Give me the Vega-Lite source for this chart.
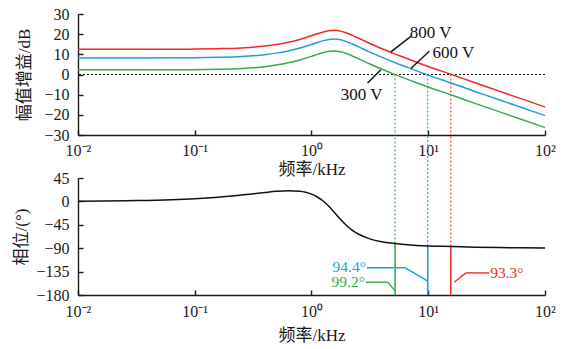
{
  "$schema": "https://vega.github.io/schema/vega-lite/v6.json",
  "padding": {"left": 12, "top": 6, "right": 4, "bottom": 0},
  "background": "white",
  "bounds": "flush",
  "spacing": 43,
  "config": {
    "view": {"stroke": null},
    "font": "Liberation Serif, Noto Sans CJK SC",
    "axis": {
      "grid": false,
      "domainColor": "#1a1a1a",
      "domainWidth": 1.4,
      "tickColor": "#1a1a1a",
      "tickWidth": 1.4,
      "tickSize": -5,
      "labelFont": "Liberation Serif, Noto Sans CJK SC",
      "labelFontSize": 16,
      "labelColor": "#1a1a1a",
      "labelOverlap": false,
      "labelBound": false,
      "titleFont": "Liberation Serif, Noto Sans CJK SC",
      "titleFontSize": 17,
      "titleFontWeight": "normal",
      "titleColor": "#1a1a1a"
    }
  },
  "datasets": {
    "mag": [
      {"V": "800 V", "f": 0.01, "dB": 12.5}, {"V": "800 V", "f": 0.0316, "dB": 12.5}, {"V": "800 V", "f": 0.0631, "dB": 12.55},
      {"V": "800 V", "f": 0.1, "dB": 12.6}, {"V": "800 V", "f": 0.158, "dB": 12.8}, {"V": "800 V", "f": 0.251, "dB": 13.2},
      {"V": "800 V", "f": 0.398, "dB": 14.1}, {"V": "800 V", "f": 0.501, "dB": 14.9}, {"V": "800 V", "f": 0.631, "dB": 16.0},
      {"V": "800 V", "f": 0.794, "dB": 17.4}, {"V": "800 V", "f": 1, "dB": 19.2}, {"V": "800 V", "f": 1.259, "dB": 21.1},
      {"V": "800 V", "f": 1.413, "dB": 21.7}, {"V": "800 V", "f": 1.585, "dB": 21.9}, {"V": "800 V", "f": 1.778, "dB": 21.5},
      {"V": "800 V", "f": 1.995, "dB": 20.6}, {"V": "800 V", "f": 2.239, "dB": 19.4}, {"V": "800 V", "f": 2.512, "dB": 18.1},
      {"V": "800 V", "f": 3.162, "dB": 15.4}, {"V": "800 V", "f": 3.981, "dB": 12.9}, {"V": "800 V", "f": 5.012, "dB": 10.5},
      {"V": "800 V", "f": 6.31, "dB": 8.3}, {"V": "800 V", "f": 7.943, "dB": 6.1}, {"V": "800 V", "f": 10, "dB": 4.0},
      {"V": "800 V", "f": 15.85, "dB": 0.0}, {"V": "800 V", "f": 25.12, "dB": -4.1}, {"V": "800 V", "f": 39.81, "dB": -8.1},
      {"V": "800 V", "f": 63.1, "dB": -12.1}, {"V": "800 V", "f": 100, "dB": -16.1},

      {"V": "600 V", "f": 0.01, "dB": 8.2}, {"V": "600 V", "f": 0.0316, "dB": 8.2}, {"V": "600 V", "f": 0.0631, "dB": 8.25},
      {"V": "600 V", "f": 0.1, "dB": 8.3}, {"V": "600 V", "f": 0.158, "dB": 8.5}, {"V": "600 V", "f": 0.251, "dB": 8.9},
      {"V": "600 V", "f": 0.398, "dB": 9.8}, {"V": "600 V", "f": 0.501, "dB": 10.6}, {"V": "600 V", "f": 0.631, "dB": 11.7},
      {"V": "600 V", "f": 0.794, "dB": 13.1}, {"V": "600 V", "f": 1, "dB": 14.9}, {"V": "600 V", "f": 1.259, "dB": 16.8},
      {"V": "600 V", "f": 1.413, "dB": 17.4}, {"V": "600 V", "f": 1.585, "dB": 17.6}, {"V": "600 V", "f": 1.778, "dB": 17.2},
      {"V": "600 V", "f": 1.995, "dB": 16.3}, {"V": "600 V", "f": 2.239, "dB": 15.1}, {"V": "600 V", "f": 2.512, "dB": 13.8},
      {"V": "600 V", "f": 3.162, "dB": 11.1}, {"V": "600 V", "f": 3.981, "dB": 8.6}, {"V": "600 V", "f": 5.012, "dB": 6.2},
      {"V": "600 V", "f": 6.31, "dB": 4.0}, {"V": "600 V", "f": 7.943, "dB": 1.8}, {"V": "600 V", "f": 10, "dB": -0.3},
      {"V": "600 V", "f": 15.85, "dB": -4.3}, {"V": "600 V", "f": 25.12, "dB": -8.4}, {"V": "600 V", "f": 39.81, "dB": -12.4},
      {"V": "600 V", "f": 63.1, "dB": -16.4}, {"V": "600 V", "f": 100, "dB": -20.4},

      {"V": "300 V", "f": 0.01, "dB": 2.3}, {"V": "300 V", "f": 0.0316, "dB": 2.3}, {"V": "300 V", "f": 0.0631, "dB": 2.35},
      {"V": "300 V", "f": 0.1, "dB": 2.4}, {"V": "300 V", "f": 0.158, "dB": 2.6}, {"V": "300 V", "f": 0.251, "dB": 3.0},
      {"V": "300 V", "f": 0.398, "dB": 3.9}, {"V": "300 V", "f": 0.501, "dB": 4.7}, {"V": "300 V", "f": 0.631, "dB": 5.8},
      {"V": "300 V", "f": 0.794, "dB": 7.2}, {"V": "300 V", "f": 1, "dB": 9.0}, {"V": "300 V", "f": 1.259, "dB": 10.9},
      {"V": "300 V", "f": 1.413, "dB": 11.5}, {"V": "300 V", "f": 1.585, "dB": 11.7}, {"V": "300 V", "f": 1.778, "dB": 11.3},
      {"V": "300 V", "f": 1.995, "dB": 10.4}, {"V": "300 V", "f": 2.239, "dB": 9.2}, {"V": "300 V", "f": 2.512, "dB": 7.9},
      {"V": "300 V", "f": 3.162, "dB": 5.2}, {"V": "300 V", "f": 3.981, "dB": 2.7}, {"V": "300 V", "f": 5.012, "dB": 0.3},
      {"V": "300 V", "f": 6.31, "dB": -1.9}, {"V": "300 V", "f": 7.943, "dB": -4.1}, {"V": "300 V", "f": 10, "dB": -6.2},
      {"V": "300 V", "f": 15.85, "dB": -10.2}, {"V": "300 V", "f": 25.12, "dB": -14.3}, {"V": "300 V", "f": 39.81, "dB": -18.3},
      {"V": "300 V", "f": 63.1, "dB": -22.3}, {"V": "300 V", "f": 100, "dB": -26.3}
    ],
    "phase": [
      {"f": 0.01, "p": 0.5}, {"f": 0.0316, "p": 1.6}, {"f": 0.0631, "p": 3.3}, {"f": 0.1, "p": 5.2},
      {"f": 0.158, "p": 8.0}, {"f": 0.251, "p": 12.1}, {"f": 0.398, "p": 17.1}, {"f": 0.501, "p": 19.3},
      {"f": 0.631, "p": 20.5}, {"f": 0.794, "p": 19.5}, {"f": 0.891, "p": 17.5}, {"f": 1, "p": 14.0},
      {"f": 1.122, "p": 8.5}, {"f": 1.259, "p": 0.7}, {"f": 1.413, "p": -9.8}, {"f": 1.585, "p": -22.3},
      {"f": 1.778, "p": -35.0}, {"f": 1.995, "p": -46.4}, {"f": 2.239, "p": -55.7}, {"f": 2.512, "p": -62.7},
      {"f": 3.162, "p": -72.0}, {"f": 3.981, "p": -77.4}, {"f": 5.012, "p": -80.6}, {"f": 6.31, "p": -83.0},
      {"f": 7.943, "p": -84.6}, {"f": 10, "p": -85.7}, {"f": 15.85, "p": -86.8}, {"f": 25.12, "p": -88.0},
      {"f": 39.81, "p": -88.8}, {"f": 63.1, "p": -89.3}, {"f": 100, "p": -89.7}
    ],
    "cross": [
      {"V": "300 V", "f": 5.2, "p": -80.8},
      {"V": "600 V", "f": 9.9, "p": -85.6},
      {"V": "800 V", "f": 15.6, "p": -86.7}
    ],
    "voltNotes": [
      {"label": "800 V", "f": 6.95, "dB": 20.6},
      {"label": "600 V", "f": 10.9, "dB": 10.7},
      {"label": "300 V", "f": 1.78, "dB": -10.0}
    ],
    "voltLeaders": [
      {"f1": 7.1, "d1": 18.9, "f2": 4.79, "d2": 11.2},
      {"f1": 10.2, "d1": 11.5, "f2": 7.1, "d2": 3.0},
      {"f1": 3.02, "d1": -4.2, "f2": 3.93, "d2": 2.4}
    ],
    "marginNotes": [
      {"V": "300 V", "label": "99.2°", "f": 2.92, "p": -155.5},
      {"V": "600 V", "label": "94.4°", "f": 2.98, "p": -126.0},
      {"V": "800 V", "label": "93.3°", "f": 33.3, "p": -138.0}
    ],
    "marginLeaders": [
      {"V": "600 V", "f1": 2.98, "p1": -127.5, "f2": 6.31, "p2": -127.5},
      {"V": "600 V", "f1": 6.31, "p1": -127.5, "f2": 9.9, "p2": -153.5},
      {"V": "300 V", "f1": 2.92, "p1": -155.4, "f2": 4.5, "p2": -155.4},
      {"V": "300 V", "f1": 4.5, "p1": -155.4, "f2": 5.2, "p2": -172.0},
      {"V": "800 V", "f1": 33.3, "p1": -137.5, "f2": 21.0, "p2": -137.5},
      {"V": "800 V", "f1": 21.0, "p1": -137.5, "f2": 16.7, "p2": -155.4}
    ]
  },
  "vconcat": [
    {
      "width": 467,
      "height": 121,
      "encoding": {
        "x": {
          "field": "f", "type": "quantitative",
          "scale": {"type": "log", "domain": [0.01, 100], "nice": false},
          "axis": {
            "values": [0.01, 0.1, 1, 10, 100],
            "labelExpr": "datum.value < 0.05 ? '10⁻²' : datum.value < 0.5 ? '10⁻¹' : datum.value < 5 ? '10⁰' : datum.value < 50 ? '10¹' : '10²'",
            "labelFlush": false,
            "labelOverlap": false,
            "labelPadding": 12,
            "title": "频率/kHz",
            "titlePadding": 3.5
          }
        }
      },
      "layer": [
        {
          "data": {"values": [{}]},
          "mark": {"type": "rule", "color": "#111111", "strokeWidth": 1.1, "strokeDash": [2, 2]},
          "encoding": {
            "x": null,
            "y": {"datum": 0, "type": "quantitative", "scale": {"domain": [-30, 30], "nice": false}, "axis": {"values": [-30, -20, -10, 0, 10, 20, 30], "labelOverlap": false, "labelPadding": 14, "title": "幅值增益/dB", "titlePadding": 10}}
          }
        },
        {
          "data": {"name": "cross"},
          "mark": {"type": "rule", "strokeWidth": 1.1, "strokeDash": [2, 2]},
          "encoding": {
            "y": {"datum": 0, "type": "quantitative", "axis": {"values": [-30, -20, -10, 0, 10, 20, 30], "labelOverlap": false, "labelPadding": 14, "title": "幅值增益/dB", "titlePadding": 10}},
            "y2": {"datum": -30},
            "color": {"field": "V", "type": "nominal", "scale": {"domain": ["300 V", "600 V", "800 V"], "range": ["#3aaa4f", "#1e9fdc", "#ee2b24"]}, "legend": null}
          }
        },
        {
          "data": {"name": "mag"},
          "mark": {"type": "line", "strokeWidth": 1.5, "interpolate": "monotone"},
          "encoding": {
            "y": {"field": "dB", "type": "quantitative", "axis": {"values": [-30, -20, -10, 0, 10, 20, 30], "labelOverlap": false, "labelPadding": 14, "title": "幅值增益/dB", "titlePadding": 10}},
            "color": {"field": "V", "type": "nominal", "scale": {"domain": ["300 V", "600 V", "800 V"], "range": ["#3aaa4f", "#1e9fdc", "#ee2b24"]}, "legend": null}
          }
        },
        {
          "data": {"name": "voltLeaders"},
          "mark": {"type": "rule", "color": "#111111", "strokeWidth": 1.4},
          "encoding": {
            "x": {"field": "f1", "type": "quantitative"},
            "x2": {"field": "f2"},
            "y": {"field": "d1", "type": "quantitative", "axis": {"values": [-30, -20, -10, 0, 10, 20, 30], "labelOverlap": false, "labelPadding": 14, "title": "幅值增益/dB", "titlePadding": 10}},
            "y2": {"field": "d2"}
          }
        },
        {
          "data": {"name": "voltNotes"},
          "mark": {"type": "text", "align": "left", "baseline": "middle", "fontSize": 17, "color": "#111111", "font": "Liberation Serif"},
          "encoding": {
            "y": {"field": "dB", "type": "quantitative", "axis": {"values": [-30, -20, -10, 0, 10, 20, 30], "labelOverlap": false, "labelPadding": 14, "title": "幅值增益/dB", "titlePadding": 10}},
            "text": {"field": "label"}
          }
        }
      ]
    },
    {
      "width": 467,
      "height": 117,
      "encoding": {
        "x": {
          "field": "f", "type": "quantitative",
          "scale": {"type": "log", "domain": [0.01, 100], "nice": false},
          "axis": {
            "values": [0.01, 0.1, 1, 10, 100],
            "labelExpr": "datum.value < 0.05 ? '10⁻²' : datum.value < 0.5 ? '10⁻¹' : datum.value < 5 ? '10⁰' : datum.value < 50 ? '10¹' : '10²'",
            "labelFlush": false,
            "labelOverlap": false,
            "labelPadding": 13,
            "title": "频率/kHz",
            "titlePadding": 8
          }
        }
      },
      "layer": [
        {
          "data": {"name": "cross"},
          "mark": {"type": "rule", "strokeWidth": 1.1, "strokeDash": [2, 2], "clip": false},
          "encoding": {
            "y": {"field": "p", "type": "quantitative", "scale": {"domain": [-180, 45], "nice": false}, "axis": {"values": [-180, -135, -90, -45, 0, 45], "labelOverlap": false, "labelPadding": 14, "title": "相位/(°)", "titlePadding": 5}},
            "y2": {"datum": 127.5},
            "color": {"field": "V", "type": "nominal", "scale": {"domain": ["300 V", "600 V", "800 V"], "range": ["#3aaa4f", "#1e9fdc", "#ee2b24"]}, "legend": null}
          }
        },
        {
          "data": {"name": "cross"},
          "mark": {"type": "rule", "strokeWidth": 1.6},
          "encoding": {
            "y": {"field": "p", "type": "quantitative", "axis": {"values": [-180, -135, -90, -45, 0, 45], "labelOverlap": false, "labelPadding": 14, "title": "相位/(°)", "titlePadding": 5}},
            "y2": {"datum": -180},
            "color": {"field": "V", "type": "nominal", "scale": {"domain": ["300 V", "600 V", "800 V"], "range": ["#3aaa4f", "#1e9fdc", "#ee2b24"]}, "legend": null}
          }
        },
        {
          "data": {"name": "phase"},
          "mark": {"type": "line", "strokeWidth": 1.5, "color": "#111111", "interpolate": "monotone"},
          "encoding": {
            "y": {"field": "p", "type": "quantitative", "axis": {"values": [-180, -135, -90, -45, 0, 45], "labelOverlap": false, "labelPadding": 14, "title": "相位/(°)", "titlePadding": 5}}
          }
        },
        {
          "data": {"name": "marginLeaders"},
          "mark": {"type": "rule", "strokeWidth": 1.4},
          "encoding": {
            "x": {"field": "f1", "type": "quantitative"},
            "x2": {"field": "f2"},
            "y": {"field": "p1", "type": "quantitative", "axis": {"values": [-180, -135, -90, -45, 0, 45], "labelOverlap": false, "labelPadding": 14, "title": "相位/(°)", "titlePadding": 5}},
            "y2": {"field": "p2"},
            "color": {"field": "V", "type": "nominal", "scale": {"domain": ["300 V", "600 V", "800 V"], "range": ["#3aaa4f", "#1e9fdc", "#ee2b24"]}, "legend": null}
          }
        },
        {
          "data": {"name": "marginNotes"},
          "transform": [{"filter": "datum.V != '800 V'"}],
          "mark": {"type": "text", "align": "right", "baseline": "middle", "dx": -1, "fontSize": 15.5, "font": "Liberation Serif"},
          "encoding": {
            "y": {"field": "p", "type": "quantitative", "axis": {"values": [-180, -135, -90, -45, 0, 45], "labelOverlap": false, "labelPadding": 14, "title": "相位/(°)", "titlePadding": 5}},
            "text": {"field": "label"},
            "color": {"field": "V", "type": "nominal", "scale": {"domain": ["300 V", "600 V", "800 V"], "range": ["#3aaa4f", "#1e9fdc", "#ee2b24"]}, "legend": null}
          }
        },
        {
          "data": {"name": "marginNotes"},
          "transform": [{"filter": "datum.V == '800 V'"}],
          "mark": {"type": "text", "align": "left", "baseline": "middle", "dx": 1, "fontSize": 15.5, "font": "Liberation Serif"},
          "encoding": {
            "y": {"field": "p", "type": "quantitative", "axis": {"values": [-180, -135, -90, -45, 0, 45], "labelOverlap": false, "labelPadding": 14, "title": "相位/(°)", "titlePadding": 5}},
            "text": {"field": "label"},
            "color": {"field": "V", "type": "nominal", "scale": {"domain": ["300 V", "600 V", "800 V"], "range": ["#3aaa4f", "#1e9fdc", "#ee2b24"]}, "legend": null}
          }
        }
      ]
    }
  ]
}
